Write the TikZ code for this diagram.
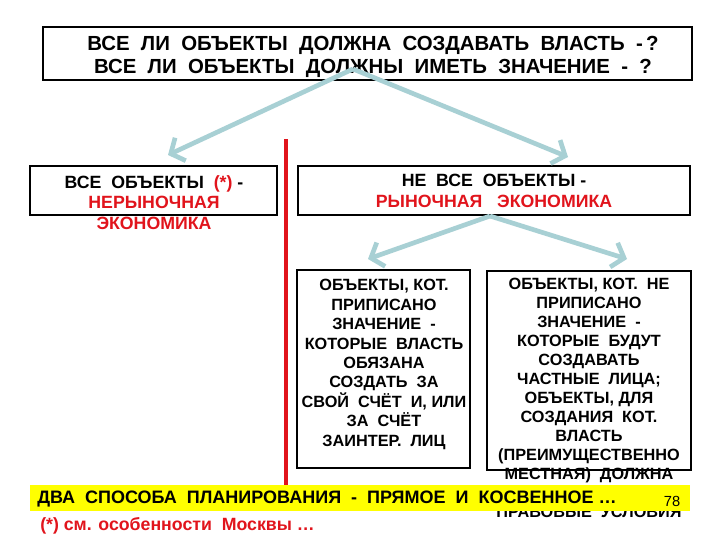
\documentclass[tikz,border=0pt]{standalone}
\usepackage{fontspec}
\setmainfont{Liberation Sans}
\usetikzlibrary{arrows.meta}
\definecolor{arrowblue}{RGB}{168,208,212}
\definecolor{myred}{RGB}{225,20,28}
\definecolor{myyellow}{RGB}{255,255,0}
\begin{document}
\begin{tikzpicture}[x=0.75pt,y=-0.75pt,
  box/.style={draw=black,line width=2.2pt,inner sep=0pt},
  txt/.style={align=center,inner sep=0pt,font=\bfseries},
  conn/.style={draw=arrowblue,line width=3.5pt,-{Straight Barb[length=8pt,width=19pt]}}]
\useasboundingbox[fill=white] (0,0) rectangle (720,540);
% red vertical line
\draw[myred,line width=3.2pt] (286,139) coordinate (rtop) -- (286,509) coordinate (rbot);
% top box
\node[box,minimum width=486.75pt,minimum height=39.75pt] (top) at (367.5,53.5) {};
\node[txt,font=\fontsize{15.3}{17.3}\selectfont\bfseries] (topt) at (373,56.5)
  {ВСЕ\ \ ЛИ\ \ ОБЪЕКТЫ\ \ ДОЛЖНА\ \ СОЗДАВАТЬ\ \ ВЛАСТЬ\ \ -\,?\\
   ВСЕ\ \ ЛИ\ \ ОБЪЕКТЫ\ \ ДОЛЖНЫ\ \ ИМЕТЬ\ \ ЗНАЧЕНИЕ\ \ -\ \ ?};
% left middle text (overflows)
\node[txt,anchor=north,font=\fontsize{13.3}{15.6}\selectfont\bfseries] (lmt) at (154,175)
  {ВСЕ\ \ ОБЪЕКТЫ\ \ \textcolor{myred}{(*)} -\\
   \textcolor{myred}{НЕРЫНОЧНАЯ}\\
   \textcolor{myred}{ЭКОНОМИКА}};
\node[box,minimum width=185.25pt,minimum height=36.75pt] (lm) at (153.5,190.5) {};
% right middle
\node[box,minimum width=294pt,minimum height=36.75pt] (rm) at (494,190.5) {};
\node[txt,anchor=north,font=\fontsize{13.3}{15.75}\selectfont\bfseries] (rmt) at (494,174)
  {НЕ\ \ ВСЕ\ \ ОБЪЕКТЫ -\\
   \textcolor{myred}{РЫНОЧНАЯ\ \ \ ЭКОНОМИКА}};
% lower left
\node[txt,anchor=north,font=\fontsize{12.2}{14.6}\selectfont\bfseries] (llt) at (384,279)
  {ОБЪЕКТЫ, КОТ.\\ ПРИПИСАНО\\ ЗНАЧЕНИЕ\ \ -\\ КОТОРЫЕ\ \ ВЛАСТЬ\\ ОБЯЗАНА\\
   СОЗДАТЬ\ \ ЗА\\ СВОЙ\ \ СЧЁТ\ \ И, ИЛИ\\ ЗА\ \ СЧЁТ\\ ЗАИНТЕР.\ \ ЛИЦ};
\node[box,minimum width=129.75pt,minimum height=148.5pt] (ll) at (383.5,369) {};
% lower right
\node[txt,anchor=north,font=\fontsize{12.2}{14.25}\selectfont\bfseries] (lrt) at (589,278)
  {ОБЪЕКТЫ, КОТ.\ \ НЕ\\ ПРИПИСАНО\\ ЗНАЧЕНИЕ\ \ -\\ КОТОРЫЕ\ \ БУДУТ\\ СОЗДАВАТЬ\\
   ЧАСТНЫЕ\ \ ЛИЦА;\\ ОБЪЕКТЫ, ДЛЯ\\ СОЗДАНИЯ\ \ КОТ.\\ ВЛАСТЬ\\ (ПРЕИМУЩЕСТВЕННО\\
   МЕСТНАЯ)\ \ ДОЛЖНА\\[14.25pt] ПРАВОВЫЕ\ \ УСЛОВИЯ};
\node[box,minimum width=153pt,minimum height=149.25pt] (lr) at (589,370.5) {};
% arrows
\coordinate (a1) at (353,69);
\coordinate (t1) at (168,155);
\coordinate (t2) at (568,157);
\coordinate (a2) at (490,216);
\coordinate (t3) at (368,259);
\coordinate (t4) at (627,259);
\draw[conn] (a1) -- (t1);
\draw[conn] (a1) -- (t2);
\draw[conn] (a2) -- (t3);
\draw[conn] (a2) -- (t4);
% yellow bar
\node[fill=myyellow,minimum width=495pt,minimum height=19.5pt,inner sep=0pt] (bar) at (360,498) {};
\node[txt,anchor=west,font=\fontsize{13.5}{15}\selectfont\bfseries] (bart) at (37,499)
  {ДВА\ \ СПОСОБА\ \ ПЛАНИРОВАНИЯ\ \ -\ \ ПРЯМОЕ\ \ И\ \ КОСВЕННОЕ\ …};
\node[inner sep=0pt,font=\fontsize{11}{12}\selectfont] (num) at (672,501) {78};
% footnote
\node[anchor=west,inner sep=0pt,text=myred,font=\fontsize{13.3}{15}\selectfont\bfseries] (foot) at (40,526)
  {(*) см. особенности\ \ Москвы …};
\end{tikzpicture}
\end{document}
